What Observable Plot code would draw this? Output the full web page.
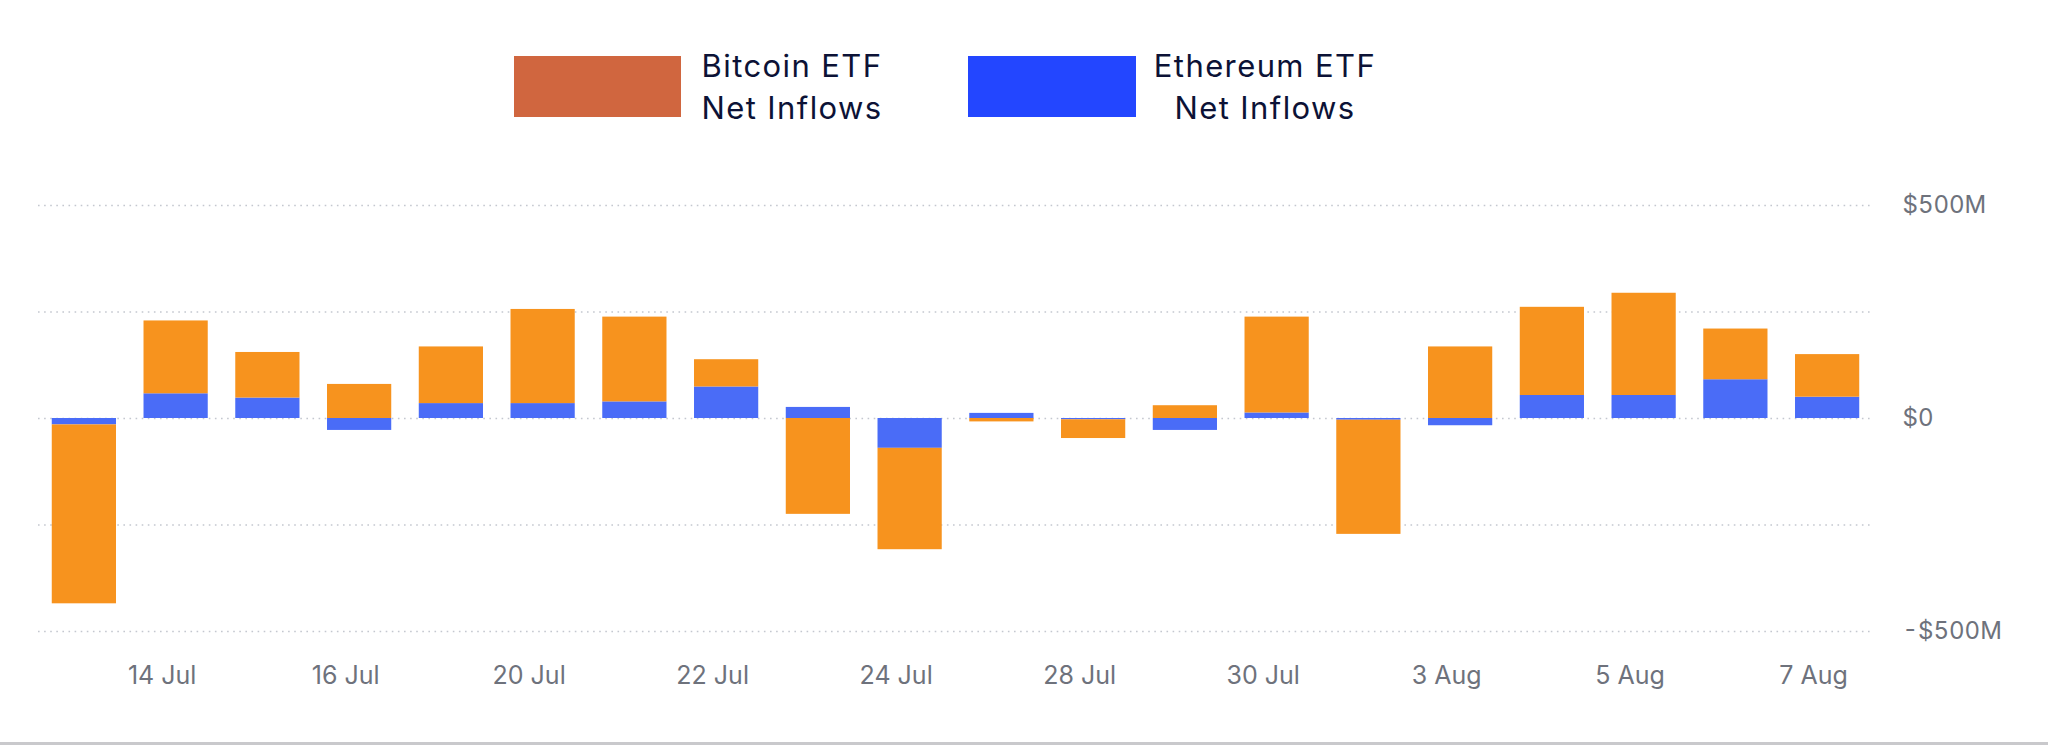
<!DOCTYPE html>
<html>
<head>
<meta charset="utf-8">
<script src="https://cdn.jsdelivr.net/npm/d3@7"></script>
<script src="https://cdn.jsdelivr.net/npm/@observablehq/plot@0.6"></script>
<style>
  html, body { margin: 0; padding: 0; background: #fff; }
  body { width: 2048px; height: 745px; overflow: hidden; font-family: Inter, "Noto Sans", sans-serif; }
  #legend { position: relative; width: 2048px; height: 140px; }
  .sw { position: absolute; top: 56px; height: 61px; }
  .lt { position: absolute; top: 45px; font-size: 31px; letter-spacing: 1.4px; line-height: 41.6px; color: #0c1236; text-align: center; white-space: nowrap; transform: translateX(-50%); }
  #rule { width: 2048px; height: 3px; background: #c9c9cc; }
  #chart svg { display: block; }
</style>
</head>
<body>
<div id="legend"></div>
<div id="chart"></div>
<div id="rule"></div>
<script>
// Trading days shown as bars
const dates = ["13 Jul","14 Jul","15 Jul","16 Jul","17 Jul","20 Jul","21 Jul","22 Jul","23 Jul","24 Jul",
               "27 Jul","28 Jul","29 Jul","30 Jul","31 Jul","3 Aug","4 Aug","5 Aug","6 Aug","7 Aug"];
// Net inflows, $M
const bitcoin  = [-420, 171, 107, 80, 133, 221, 199, 64, -225, -238, -8, -44, 30, 225, -268, 168, 207, 240, 119, 100];
const ethereum = [-15, 58, 48, -28, 35, 35, 39, 74, 26, -70, 12, -3, -28, 13, -4, -17, 54, 54, 91, 50];
// Tick labels on the x axis
const xTicks = ["14 Jul","16 Jul","20 Jul","22 Jul","24 Jul","28 Jul","30 Jul","3 Aug","5 Aug","7 Aug"];
const yGrid = [-500, -250, 0, 250, 500];
const yTicks = [-500, 0, 500];
const seriesNames = ["Ethereum ETF Net Inflows", "Bitcoin ETF Net Inflows"];
const barColors = ["#4a6cf7", "#f7931e"];
const legendItems = [
  {label: ["Bitcoin ETF", "Net Inflows"], color: "#d0663f", left: 514, width: 167, center: 792},
  {label: ["Ethereum ETF", "Net Inflows"], color: "#2346ff", left: 968, width: 168, center: 1265}
];

// Legend
const lg = document.getElementById("legend");
for (const it of legendItems) {
  const s = document.createElement("div");
  s.className = "sw";
  s.style.left = it.left + "px";
  s.style.width = it.width + "px";
  s.style.background = it.color;
  lg.appendChild(s);
  const t = document.createElement("div");
  t.className = "lt";
  t.style.left = it.center + "px";
  t.innerHTML = it.label.join("<br>");
  lg.appendChild(t);
}

// Long table: ethereum first so it stacks next to zero
const rows = [];
dates.forEach((d, i) => {
  rows.push({date: d, series: seriesNames[0], value: ethereum[i]});
  rows.push({date: d, series: seriesNames[1], value: bitcoin[i]});
});

const fmt = v => v === 0 ? "$0" : (v < 0 ? "-" : "") + "$" + Math.abs(v) + "M";

const chart = Plot.plot({
  width: 2048,
  height: 602,
  marginLeft: 38,
  marginRight: 175,
  marginTop: 65,
  marginBottom: 111,
  style: {fontFamily: "Inter, sans-serif", background: "#fff"},
  x: {type: "band", domain: dates, paddingInner: 0.3, paddingOuter: 0.15, round: false, label: null},
  y: {domain: [-500, 500], label: null},
  color: {domain: seriesNames, range: barColors},
  marks: [
    Plot.gridY(yGrid, {stroke: "#c4c7cf", strokeOpacity: 1, strokeWidth: 1.6, strokeDasharray: "1.6,4.5"}),
    Plot.barY(rows, {x: "date", y: "value", fill: "series", inset: 0}),
    Plot.axisX(xTicks, {tickSize: 0, tickPadding: 35, fontSize: 25, fill: "#6e727c", dx: -14, style: {letterSpacing: "1px"}}),
    Plot.axisY(yTicks, {anchor: "right", tickSize: 0, tickPadding: 29, fontSize: 24, fill: "#6e727c", tickFormat: fmt, textAnchor: "start"})
  ]
});
document.getElementById("chart").appendChild(chart);
</script>
</body>
</html>
